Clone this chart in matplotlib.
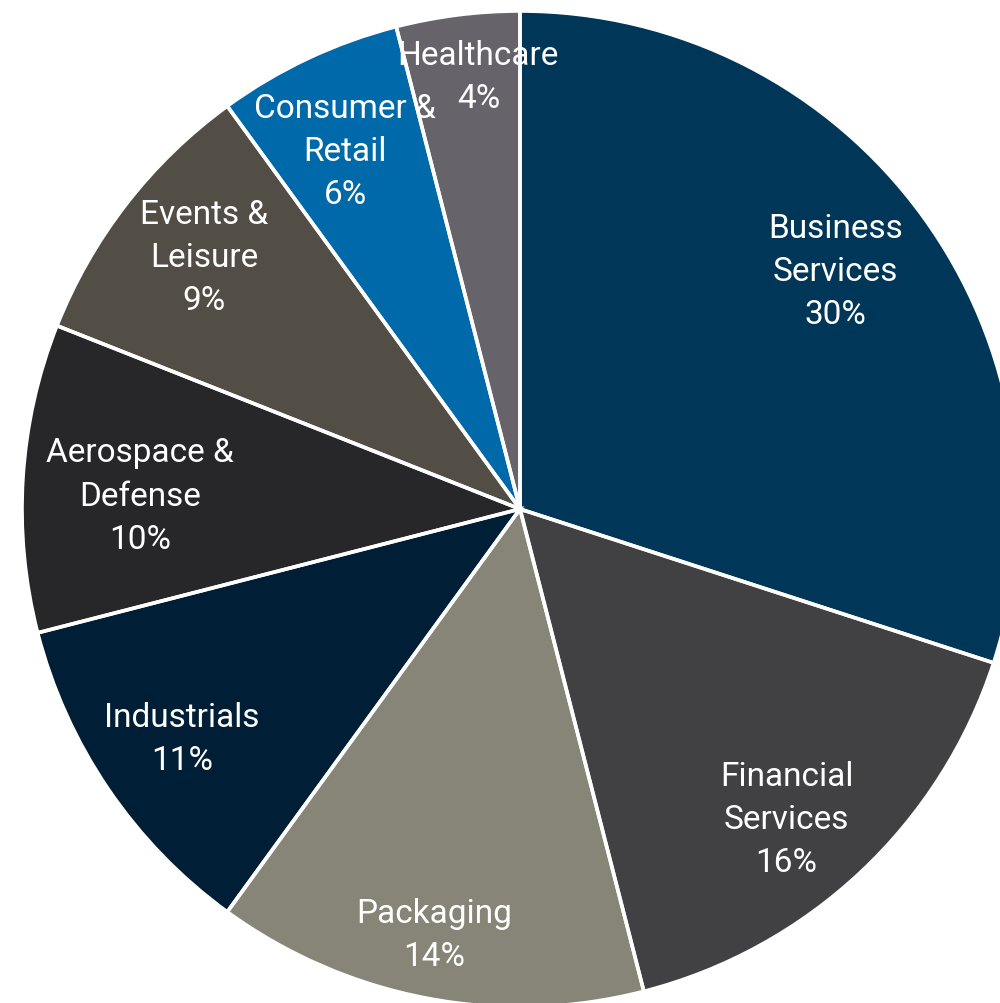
import matplotlib
matplotlib.use("Agg")
import matplotlib.pyplot as plt
from matplotlib.patches import Wedge
import numpy as np

categories = ["Business\nServices", "Financial\nServices", "Packaging", "Industrials",
              "Aerospace &\nDefense", "Events &\nLeisure", "Consumer &\nRetail", "Healthcare"]
values = [30, 16, 14, 11, 10, 9, 6, 4]
colors = ["#003657", "#414042", "#878577", "#001f36", "#272628", "#524e46", "#0069aa", "#66646a"]
label_r = [0.794, 0.821, 0.871, 0.821, 0.764, 0.811, 0.80, 0.872]
label_dang = [1.0, -2.5, -0.6, 0.0, 1.6, -0.8, 0.8, -1.7]

fig = plt.figure(figsize=(10, 10.04), dpi=100)
ax = fig.add_axes([0, 0, 1, 1])

R = 498
wedges, _ = ax.pie(values, colors=colors, startangle=90, counterclock=False,
                   radius=R, center=(0, 0), frame=True,
                   wedgeprops=dict(linewidth=0, zorder=1))
ax.set_xlim(-520, 480)
ax.set_ylim(-494, 510)
ax.set_aspect("equal")
ax.axis("off")

for w, cat, v, rf, da in zip(wedges, categories, values, label_r, label_dang):
    mid = np.deg2rad((w.theta1 + w.theta2) / 2 + da)
    x, y = rf * R * np.cos(mid), rf * R * np.sin(mid)
    ax.text(x, y, f"{cat}\n{v}%", ha="center", va="center", color="white",
            fontsize=24, family=["Roboto", "DejaVu Sans"], linespacing=1.45, zorder=2)
    e = Wedge((0, 0), R, w.theta1, w.theta2, facecolor="none", edgecolor="white",
              linewidth=2.6, zorder=3)
    ax.add_patch(e)

fig.savefig("out.png", dpi=100)
